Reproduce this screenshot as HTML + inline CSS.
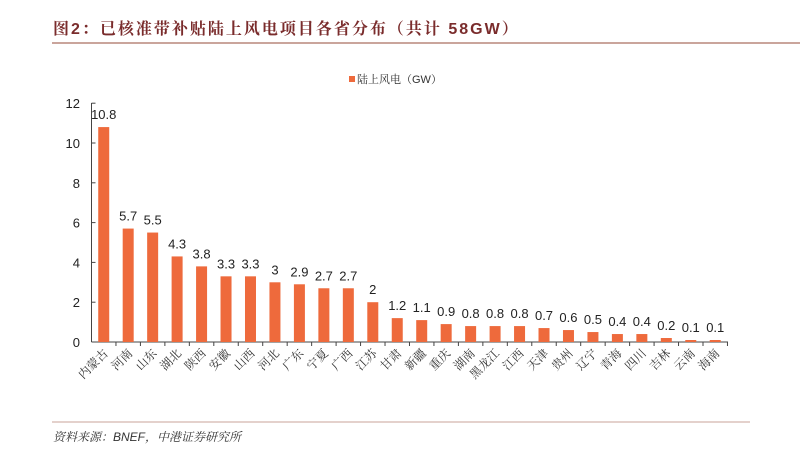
<!DOCTYPE html>
<html><head><meta charset="utf-8"><style>
body{margin:0;background:#fff;width:800px;height:457px;overflow:hidden}
svg{display:block}
</style></head><body>
<svg id="s" width="800" height="457" xmlns="http://www.w3.org/2000/svg" font-family="'Liberation Sans','Noto Sans CJK SC',sans-serif">
<text x="53" y="34" font-size="16" font-weight="bold" letter-spacing="2" fill="#7a2c2c" font-family="'Liberation Sans','Noto Serif CJK SC',sans-serif">图2：已核准带补贴陆上风电项目各省分布（共计 58GW）</text>
<line x1="52" y1="43" x2="800" y2="43" stroke="#b8877c" stroke-width="1.5"/>
<rect x="349" y="76" width="6" height="6" fill="#ee6a3c"/>
<text x="357" y="83" font-size="11" fill="#333" font-family="'Liberation Sans','Noto Serif CJK SC',sans-serif">陆上风电（GW）</text>
<line x1="52" y1="422" x2="750" y2="422" stroke="#c9a39a" stroke-width="1"/>
<text x="53" y="441" font-size="12" font-style="italic" fill="#333" font-family="'Liberation Sans','Noto Serif CJK SC',sans-serif">资料来源：BNEF，中港证券研究所</text>
<g id="c"></g>
</svg>
<script>
var names=["内蒙古","河南","山东","湖北","陕西","安徽","山西","河北","广东","宁夏","广西","江苏","甘肃","新疆","重庆","湖南","黑龙江","江西","天津","贵州","辽宁","青海","四川","吉林","云南","海南"];
var vals=[10.8,5.7,5.5,4.3,3.8,3.3,3.3,3,2.9,2.7,2.7,2,1.2,1.1,0.9,0.8,0.8,0.8,0.7,0.6,0.5,0.4,0.4,0.2,0.1,0.1];
var y0=342,u=19.9,x0=91.5,w=24.46,h='';
h+='<line x1="'+x0+'" y1="103" x2="'+x0+'" y2="'+y0+'" stroke="#444"/>';
h+='<line x1="'+x0+'" y1="'+y0+'" x2="728" y2="'+y0+'" stroke="#444"/>';
for(var t=0;t<=12;t+=2){var y=y0-t*u;h+='<line x1="'+x0+'" y1="'+y+'" x2="'+(x0+4)+'" y2="'+y+'" stroke="#444"/>';h+='<text x="80" y="'+(y+5)+'" font-size="13" text-anchor="end" fill="#222">'+t+'</text>';}
for(var i=0;i<26;i++){var cx=x0+w*(i+0.5),bh=vals[i]*u;
h+='<rect x="'+(cx-5.5)+'" y="'+(y0-bh)+'" width="11" height="'+bh+'" fill="#ee6a3c"/>';
h+='<text x="'+cx+'" y="'+(y0-bh-8)+'" font-size="13" text-anchor="middle" fill="#222">'+vals[i]+'</text>';
var tx=x0+w*(i+1);h+='<line x1="'+tx+'" y1="'+y0+'" x2="'+tx+'" y2="'+(y0+4)+'" stroke="#444"/>';
h+='<text transform="translate('+(cx+5)+','+(y0+12)+') rotate(-45)" font-size="12" text-anchor="end" fill="#333" font-family="\'Liberation Serif\',\'Noto Serif CJK SC\',serif">'+names[i]+'</text>';}
document.getElementById('c').innerHTML=h;
</script>
</body></html>
